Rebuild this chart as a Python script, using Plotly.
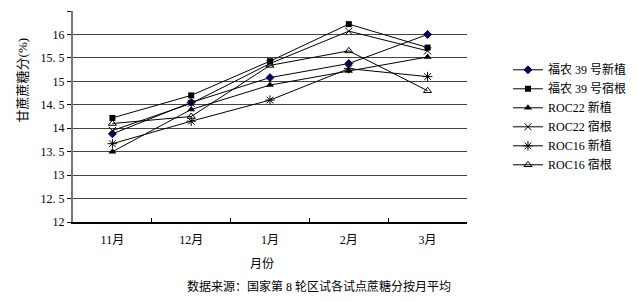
import plotly.graph_objects as go

months = ["11月", "12月", "1月", "2月", "3月"]
fn39_new = [13.88, 14.55, 15.08, 15.38, 16.00]
fn39_rat = [14.22, 14.70, 15.43, 16.22, 15.72]
roc22_new = [13.50, 14.40, 14.92, 15.22, 15.52]
roc22_rat = [13.95, 14.53, 15.38, 16.07, 15.65]
roc16_new = [13.67, 14.15, 14.60, 15.27, 15.10]
roc16_rat = [14.10, 14.25, 15.34, 15.65, 14.80]
names = ["福农 39 号新植", "福农 39 号宿根", "ROC22 新植", "ROC22 宿根", "ROC16 新植", "ROC16 宿根"]
ytick_vals = [12, 12.5, 13, 13.5, 14, 14.5, 15, 15.5, 16, 16.5]
ytick_text = ["12", "12. 5", "13", "13. 5", "14", "14. 5", "15", "15. 5", "16", "16. 5"]

FONT = "Liberation Serif, Noto Sans CJK SC, serif"

series = [fn39_new, fn39_rat, roc22_new, roc22_rat, roc16_new, roc16_rat]
markers = [
    dict(symbol="diamond", size=6, color="#000080", line=dict(color="black", width=1)),
    dict(symbol="square", size=6, color="black"),
    dict(symbol="triangle-up", size=7, color="black"),
    dict(symbol="x-thin", size=7, color="black", line=dict(color="black", width=1)),
    dict(symbol="asterisk", size=8, color="black", line=dict(color="black", width=1)),
    dict(symbol="triangle-up-open", size=7, color="black", line=dict(color="black", width=1)),
]

fig = go.Figure()
for name, vals, mk in zip(names, series, markers):
    fig.add_trace(go.Scatter(x=months, y=vals, name=name, mode="lines+markers",
                             line=dict(color="black", width=1), marker=mk))

# page body has an 8px margin: figure is 622x285 so the page is 638x301
fig.update_layout(
    width=622, height=285,
    margin=dict(l=65, r=163, t=3, b=71, autoexpand=False),
    paper_bgcolor="white", plot_bgcolor="white",
    font=dict(family=FONT, size=12, color="black"),
    showlegend=True,
    legend=dict(x=1.104, y=0.79, xanchor="left", yanchor="top",
                font=dict(family=FONT, size=12), itemwidth=30,
                tracegroupgap=0, bgcolor="rgba(0,0,0,0)"),
    xaxis=dict(type="category", range=[-0.5, 4.5], tickson="boundaries",
               ticks="inside", ticklen=4, tickcolor="black",
               showline=True, linecolor="black", linewidth=1.5,
               ticklabelstandoff=6,
               showgrid=False, tickfont=dict(family=FONT, size=12)),
    yaxis=dict(range=[12, 16.5], tickvals=ytick_vals, ticktext=ytick_text,
               ticks="outside", ticklen=4, tickcolor="black",
               showline=True, linecolor="#777", linewidth=2,
               showgrid=True, gridcolor="#444", gridwidth=1,
               zeroline=False, tickfont=dict(family=FONT, size=12)),
)

fig.add_annotation(text="甘蔗蔗糖分(%)", textangle=-90, xref="paper", yref="paper",
                   x=-0.129, y=0.672, xanchor="center", yanchor="middle",
                   showarrow=False, font=dict(family=FONT, size=13))
fig.add_annotation(text="月份", xref="paper", yref="paper", x=0.479, y=-0.199,
                   xanchor="center", yanchor="middle",
                   showarrow=False, font=dict(family=FONT, size=12))
fig.add_annotation(text="数据来源：国家第 8 轮区试各试点蔗糖分按月平均", xref="paper", yref="paper",
                   x=0.625, y=-0.308, xanchor="center", yanchor="middle",
                   showarrow=False, font=dict(family=FONT, size=12))

fig.write_html("out.html")
